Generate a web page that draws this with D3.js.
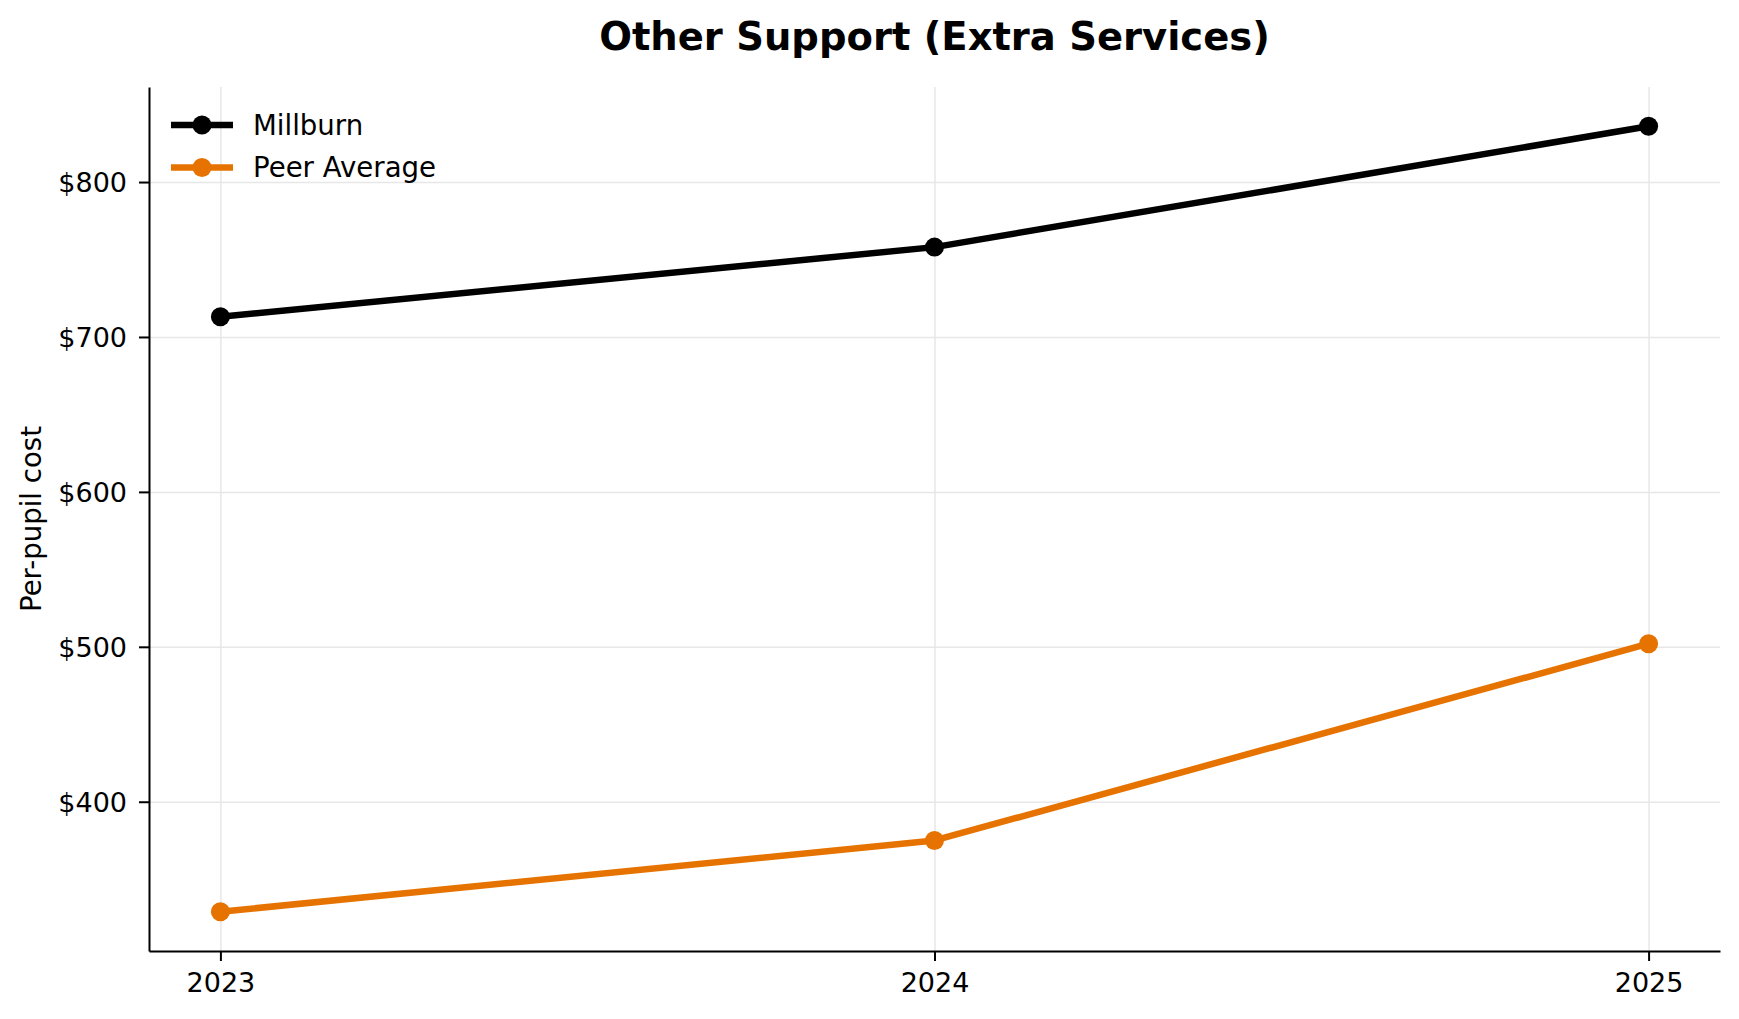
<!DOCTYPE html>
<html>
<head>
<meta charset="utf-8">
<script src="https://cdn.jsdelivr.net/npm/d3@7"></script>
<style>
  body { margin: 0; background: #fff; }
  text { font-family: "DejaVu Sans", sans-serif; fill: #000; }
</style>
</head>
<body>
<svg id="chart"></svg>
<script>
(function(d3) {
  "use strict";

  /***** Données *****/
  var years = [2023, 2024, 2025];
  var millburn = [713, 758, 836];
  var peerAverage = [329, 375, 502];
  var seriesNames = ["Millburn", "Peer Average"];
  var seriesColors = ["#000000", "#e67300"];
  var yTicks = [400, 500, 600, 700, 800];
  var titleText = "Other Support (Extra Services)";
  var yLabelText = "Per-pupil cost";

  /***** Configuration *****/
  var width = 1739;
  var height = 1019;
  var margin = { top: 87, right: 19, bottom: 68, left: 149 };
  var plotW = width - margin.left - margin.right;
  var plotH = height - margin.top - margin.bottom;
  var tickFont = 27;
  var labelFont = 27.6;

  var series = [millburn, peerAverage].map(function(values, i) {
    return {
      name: seriesNames[i],
      color: seriesColors[i],
      points: values.map(function(v, j) { return { year: years[j], value: v }; })
    };
  });

  // marges de 5% comme l'autoscale de matplotlib
  var xExt = d3.extent(years);
  var xPad = (xExt[1] - xExt[0]) * 0.05;
  var allValues = millburn.concat(peerAverage);
  var yExt = d3.extent(allValues);
  var yPad = (yExt[1] - yExt[0]) * 0.05;

  var x = d3.scaleLinear().domain([xExt[0] - xPad, xExt[1] + xPad]).range([0, plotW]);
  var y = d3.scaleLinear().domain([yExt[0] - yPad, yExt[1] + yPad]).range([plotH, 0]);

  var svg = d3.select("#chart")
    .attr("width", width)
    .attr("height", height);

  var g = svg.append("g")
    .attr("transform", "translate(" + margin.left + "," + margin.top + ")");

  /***** Grille *****/
  g.append("g")
    .attr("class", "grid x")
    .attr("transform", "translate(0," + plotH + ")")
    .call(d3.axisBottom(x).tickValues(years).tickSize(-plotH).tickFormat(""))
    .call(function(s) { s.select(".domain").remove(); })
    .selectAll("line")
    .attr("stroke", "#e7e7e7")
    .attr("stroke-width", 1.5);

  g.append("g")
    .attr("class", "grid y")
    .call(d3.axisLeft(y).tickValues(yTicks).tickSize(-plotW).tickFormat(""))
    .call(function(s) { s.select(".domain").remove(); })
    .selectAll("line")
    .attr("stroke", "#e7e7e7")
    .attr("stroke-width", 1.5);

  /***** Axes *****/
  var xAxis = d3.axisBottom(x).tickValues(years).tickFormat(d3.format("d")).tickSize(10).tickSizeOuter(0).tickPadding(10);
  var yAxis = d3.axisLeft(y).tickValues(yTicks).tickFormat(function(d) { return "$" + d; }).tickSize(10).tickSizeOuter(0).tickPadding(12);

  var gx = g.append("g")
    .attr("class", "x axis")
    .attr("transform", "translate(0," + plotH + ")")
    .call(xAxis);

  var gy = g.append("g")
    .attr("class", "y axis")
    .call(yAxis);

  [gx, gy].forEach(function(ax) {
    ax.select(".domain").attr("stroke", "#000").attr("stroke-width", 2);
    ax.selectAll(".tick line").attr("stroke", "#000").attr("stroke-width", 2);
    ax.selectAll(".tick text")
      .style("font-size", tickFont + "px")
      .style("font-family", "DejaVu Sans")
      .attr("fill", "#000");
  });
  gx.selectAll(".tick text").attr("dy", "0.76em");
  gy.selectAll(".tick text").attr("dy", "0.36em");

  /***** Lignes *****/
  var line = d3.line()
    .x(function(d) { return x(d.year); })
    .y(function(d) { return y(d.value); });

  var sg = g.selectAll(".serie")
    .data(series)
    .enter()
    .append("g")
    .attr("class", "serie");

  sg.append("path")
    .attr("d", function(d) { return line(d.points); })
    .attr("fill", "none")
    .attr("stroke", function(d) { return d.color; })
    .attr("stroke-width", 6.5)
    .attr("stroke-linejoin", "round");

  sg.selectAll("circle")
    .data(function(d) { return d.points.map(function(p) { return { p: p, color: d.color }; }); })
    .enter()
    .append("circle")
    .attr("cx", function(d) { return x(d.p.year); })
    .attr("cy", function(d) { return y(d.p.value); })
    .attr("r", 9.5)
    .attr("fill", function(d) { return d.color; });

  /***** Légende *****/
  var legend = svg.append("g")
    .attr("transform", "translate(171,125)");

  var items = legend.selectAll(".item")
    .data(series)
    .enter()
    .append("g")
    .attr("class", "item")
    .attr("transform", function(d, i) { return "translate(0," + (i * 42.5) + ")"; });

  items.append("line")
    .attr("x1", 0)
    .attr("x2", 62)
    .attr("stroke", function(d) { return d.color; })
    .attr("stroke-width", 6.5);

  items.append("circle")
    .attr("cx", 31)
    .attr("r", 9.5)
    .attr("fill", function(d) { return d.color; });

  items.append("text")
    .attr("x", 82)
    .attr("dy", "0.36em")
    .style("font-size", labelFont + "px")
    .text(function(d) { return d.name; });

  /***** Titres *****/
  svg.append("text")
    .attr("x", margin.left + plotW / 2)
    .attr("y", 50)
    .attr("text-anchor", "middle")
    .style("font-size", "38.5px")
    .style("font-weight", "bold")
    .text(titleText);

  svg.append("text")
    .attr("transform", "translate(41," + (margin.top + plotH / 2) + ") rotate(-90)")
    .attr("text-anchor", "middle")
    .style("font-size", labelFont + "px")
    .text(yLabelText);

})(d3);
</script>
</body>
</html>
